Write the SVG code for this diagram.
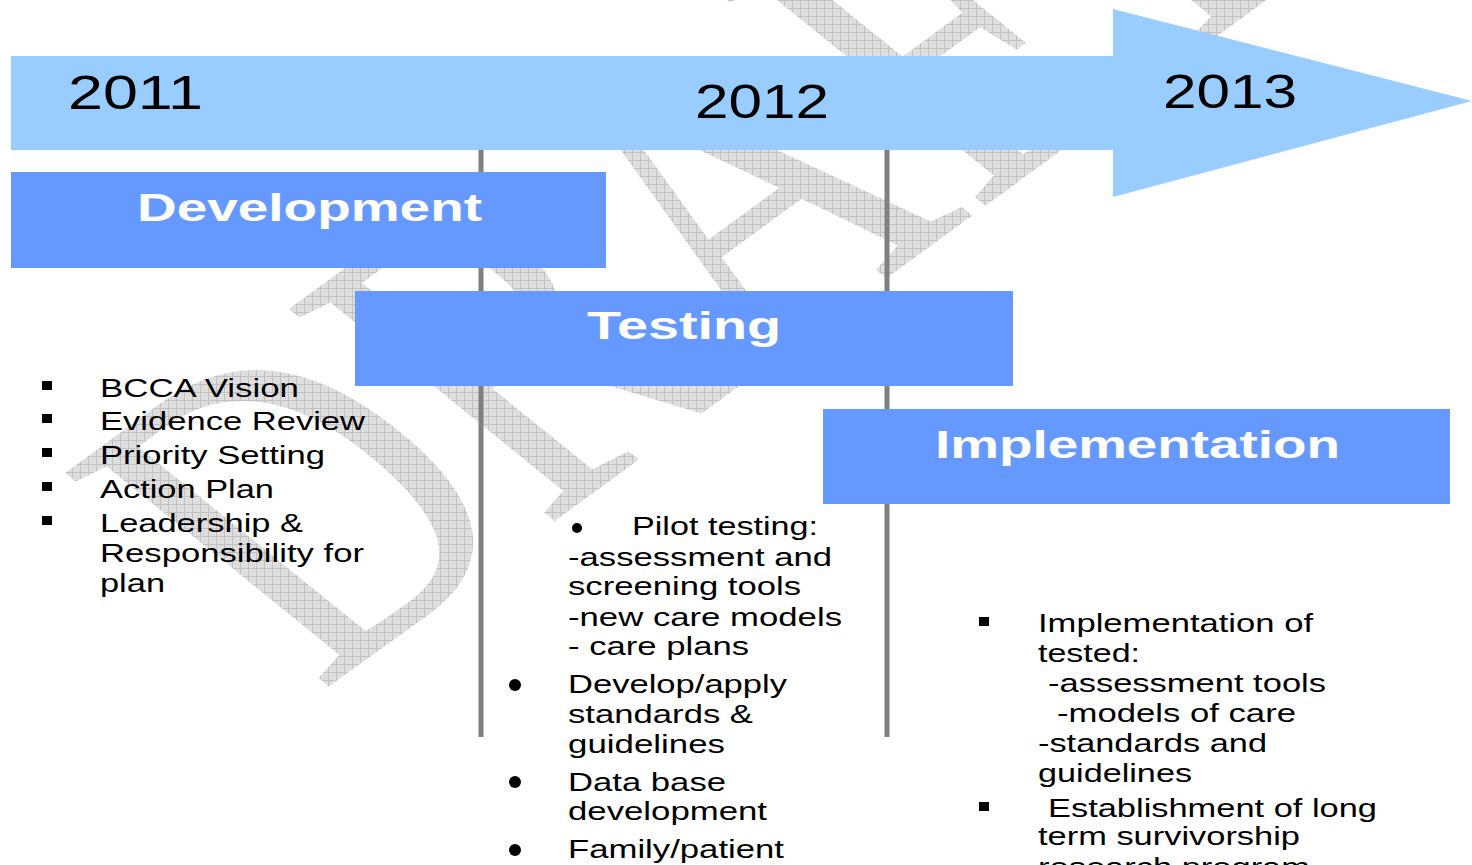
<svg xmlns="http://www.w3.org/2000/svg" width="1472" height="865" viewBox="0 0 1472 865">
  <style>
    .t { font-family: "Liberation Sans", Arial, sans-serif; font-size: 26px; fill: #000; }
    .yr { font-family: "Liberation Sans", Arial, sans-serif; font-size: 48px; fill: #000; }
    .hd { font-family: "Liberation Sans", Arial, sans-serif; font-size: 38px; font-weight: bold; fill: #fff; }
    .phase { fill: #6699FF; }
    .vline { stroke: #808080; stroke-width: 5; fill: none; }
    .sq { fill: #000; }
  </style>
  <defs>
    <pattern id="grid" width="8" height="8" patternUnits="userSpaceOnUse">
      <rect width="8" height="8" fill="#dedede"/>
      <path d="M0 0.5H8M0.5 0V8" stroke="#c2c2c2" stroke-width="1"/>
    </pattern>
    <clipPath id="wmclip">
      <text transform="matrix(3.10,-2.27,4.03,3.26,320,693)" x="0" y="0" font-family="Liberation Serif, Times New Roman, serif" font-size="100">DRAFT</text>
    </clipPath>
  </defs>
  <rect width="1472" height="865" fill="#fff"/>
  <g id="watermark">
    <rect width="1472" height="865" fill="url(#grid)" clip-path="url(#wmclip)"/>
  </g>
  <g id="connectors">
    <line class="vline" x1="481" y1="150" x2="481" y2="737"/>
    <line class="vline" x1="887" y1="150" x2="887" y2="737"/>
  </g>
  <g id="timeline">
    <polygon points="11,56 1113,56 1113,9 1472,101 1113,197 1113,150 11,150" fill="#99CCFF"/>
    <text class="yr" x="68" y="109" textLength="135" lengthAdjust="spacingAndGlyphs">2011</text>
    <text class="yr" x="695" y="118" textLength="134" lengthAdjust="spacingAndGlyphs">2012</text>
    <text class="yr" x="1163" y="108" textLength="134" lengthAdjust="spacingAndGlyphs">2013</text>
  </g>
  <g id="development">
    <rect class="phase" x="11" y="172" width="595" height="96"/>
    <text class="hd" x="137" y="221" textLength="345" lengthAdjust="spacingAndGlyphs">Development</text>
  </g>
  <g id="testing">
    <rect class="phase" x="355" y="291" width="658" height="95"/>
    <text class="hd" x="587" y="339" textLength="194" lengthAdjust="spacingAndGlyphs">Testing</text>
  </g>
  <g id="implementation">
    <rect class="phase" x="823" y="409" width="627" height="95"/>
    <text class="hd" x="935" y="458" textLength="405" lengthAdjust="spacingAndGlyphs">Implementation</text>
  </g>
  <g id="development-list">
    <rect class="sq" x="42" y="381" width="10" height="9"/>
    <rect class="sq" x="42" y="414" width="10" height="9"/>
    <rect class="sq" x="42" y="448" width="10" height="9"/>
    <rect class="sq" x="42" y="482" width="10" height="9"/>
    <rect class="sq" x="42" y="516" width="10" height="9"/>
    <text class="t" x="100" y="397" textLength="199" lengthAdjust="spacingAndGlyphs">BCCA Vision</text>
    <text class="t" x="100" y="430" textLength="265" lengthAdjust="spacingAndGlyphs">Evidence Review</text>
    <text class="t" x="100" y="464" textLength="225" lengthAdjust="spacingAndGlyphs">Priority Setting</text>
    <text class="t" x="100" y="498" textLength="174" lengthAdjust="spacingAndGlyphs">Action Plan</text>
    <text class="t" x="100" y="532" textLength="203" lengthAdjust="spacingAndGlyphs">Leadership &amp;</text>
    <text class="t" x="100" y="562" textLength="264" lengthAdjust="spacingAndGlyphs">Responsibility for</text>
    <text class="t" x="100" y="592" textLength="65" lengthAdjust="spacingAndGlyphs">plan</text>
  </g>
  <g id="testing-list">
    <circle cx="577" cy="528" r="5"/>
    <circle cx="515" cy="685" r="6"/>
    <circle cx="515" cy="782" r="6"/>
    <circle cx="515" cy="850" r="6"/>
    <text class="t" x="632" y="535" textLength="186" lengthAdjust="spacingAndGlyphs">Pilot testing:</text>
    <text class="t" x="568" y="566" textLength="264" lengthAdjust="spacingAndGlyphs">-assessment and</text>
    <text class="t" x="568" y="595" textLength="233" lengthAdjust="spacingAndGlyphs">screening tools</text>
    <text class="t" x="568" y="626" textLength="274" lengthAdjust="spacingAndGlyphs">-new care models</text>
    <text class="t" x="568" y="655" textLength="181" lengthAdjust="spacingAndGlyphs">- care plans</text>
    <text class="t" x="568" y="693" textLength="219" lengthAdjust="spacingAndGlyphs">Develop/apply</text>
    <text class="t" x="568" y="723" textLength="185" lengthAdjust="spacingAndGlyphs">standards &amp;</text>
    <text class="t" x="568" y="753" textLength="157" lengthAdjust="spacingAndGlyphs">guidelines</text>
    <text class="t" x="568" y="791" textLength="158" lengthAdjust="spacingAndGlyphs">Data base</text>
    <text class="t" x="568" y="820" textLength="199" lengthAdjust="spacingAndGlyphs">development</text>
    <text class="t" x="568" y="858" textLength="216" lengthAdjust="spacingAndGlyphs">Family/patient</text>
  </g>
  <g id="implementation-list">
    <rect class="sq" x="979" y="617" width="10" height="9"/>
    <rect class="sq" x="979" y="802" width="10" height="9"/>
    <text class="t" x="1038" y="632" textLength="275" lengthAdjust="spacingAndGlyphs">Implementation of</text>
    <text class="t" x="1038" y="662" textLength="102" lengthAdjust="spacingAndGlyphs">tested:</text>
    <text class="t" x="1048" y="692" textLength="278" lengthAdjust="spacingAndGlyphs">-assessment tools</text>
    <text class="t" x="1057" y="722" textLength="239" lengthAdjust="spacingAndGlyphs">-models of care</text>
    <text class="t" x="1038" y="752" textLength="229" lengthAdjust="spacingAndGlyphs">-standards and</text>
    <text class="t" x="1038" y="782" textLength="154" lengthAdjust="spacingAndGlyphs">guidelines</text>
    <text class="t" x="1048" y="817" textLength="329" lengthAdjust="spacingAndGlyphs">Establishment of long</text>
    <text class="t" x="1038" y="845" textLength="262" lengthAdjust="spacingAndGlyphs">term survivorship</text>
    <text class="t" x="1038" y="876" textLength="272" lengthAdjust="spacingAndGlyphs">research program</text>
  </g>
</svg>
